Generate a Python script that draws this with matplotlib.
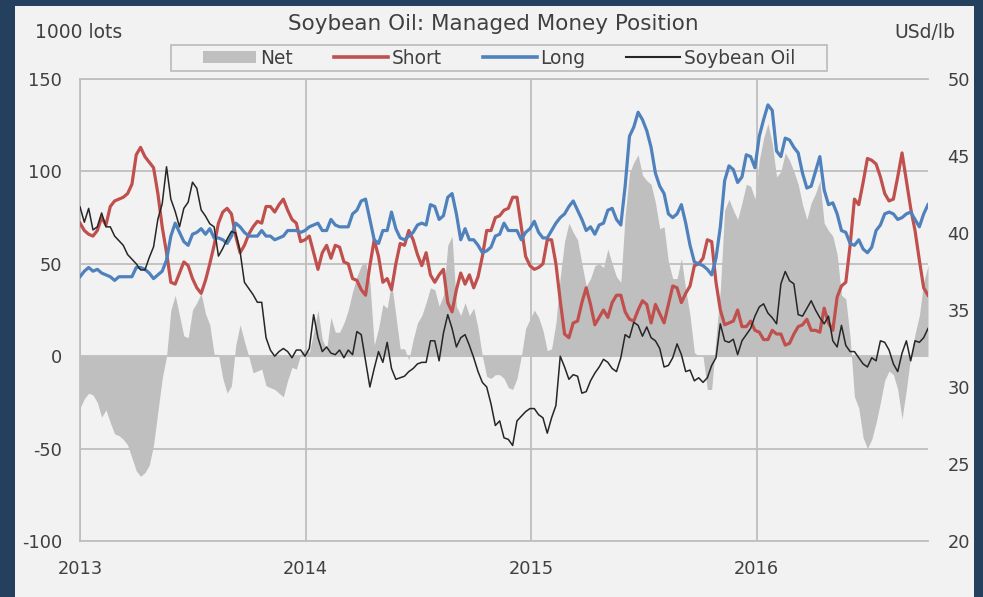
import numpy as np
import pandas as pd
import matplotlib
matplotlib.use("Agg")
import matplotlib.pyplot as plt
from matplotlib.patches import Rectangle, Patch
from matplotlib.lines import Line2D

# ---------------- data (weekly, 1000 lots / USd per lb) ----------------
dates = pd.date_range("2013-01-01", periods=197, freq="7D")

short = [72, 68, 66, 65, 68, 75, 71, 81, 84, 85,
         86, 88, 93, 109, 113, 108, 105, 102, 88, 70,
         56, 40, 39, 45, 51, 49, 42, 37, 34, 41,
         50, 60, 72, 78, 80, 77, 65, 56, 60, 66,
         70, 73, 72, 81, 81, 78, 82, 85, 79, 74,
         72, 62, 63, 65, 56, 47, 56, 60, 53, 60,
         59, 51, 50, 42, 41, 36, 33, 49, 63, 54,
         40, 42, 36, 50, 61, 60, 68, 63, 55, 49,
         56, 44, 40, 44, 47, 29, 24, 36, 45, 39,
         44, 37, 43, 54, 68, 68, 75, 76, 79, 80,
         86, 86, 70, 54, 49, 47, 48, 50, 63, 63,
         50, 30, 12, 10, 18, 19, 29, 37, 28, 17,
         21, 25, 21, 29, 33, 33, 24, 20, 19, 25,
         30, 28, 18, 28, 23, 18, 28, 38, 37, 29,
         34, 38, 49, 50, 53, 63, 62, 40, 25, 17,
         18, 19, 25, 16, 16, 19, 14, 13, 9, 9,
         14, 12, 12, 6, 7, 12, 16, 17, 20, 14,
         14, 13, 26, 18, 14, 32, 38, 40, 60, 85,
         82, 94, 107, 106, 104, 97, 88, 84, 85, 97,
         110, 95, 80, 68, 52, 37, 33]

long = [43, 46, 48, 46, 47, 45, 44, 43, 41, 43,
        43, 43, 43, 48, 48, 47, 45, 42, 44, 46,
        52, 65, 72, 67, 62, 60, 66, 67, 69, 66,
        69, 64, 64, 63, 61, 65, 72, 70, 67, 65,
        65, 65, 68, 65, 65, 63, 64, 65, 68, 68,
        68, 67, 68, 70, 71, 72, 68, 68, 74, 71,
        70, 70, 70, 77, 79, 84, 85, 74, 63, 61,
        68, 68, 78, 69, 64, 63, 65, 67, 71, 72,
        71, 82, 81, 74, 76, 86, 88, 77, 63, 69,
        63, 63, 60, 56, 57, 59, 65, 66, 72, 68,
        68, 68, 63, 67, 69, 73, 67, 64, 64, 68,
        72, 75, 77, 81, 84, 79, 74, 68, 70, 66,
        71, 72, 79, 80, 74, 71, 92, 119, 124, 132,
        128, 122, 113, 99, 92, 88, 77, 75, 77, 82,
        72, 60, 51, 50, 49, 47, 44, 53, 70, 95,
        103, 101, 94, 97, 109, 108, 102, 119, 128, 136,
        133, 111, 108, 118, 117, 113, 110, 99, 91, 92,
        100, 108, 90, 82, 83, 77, 68, 67, 61, 60,
        63, 58, 56, 59, 68, 71, 77, 78, 77, 74,
        75, 77, 78, 74, 70, 77, 82]

net = [-28, -23, -20, -21, -25, -33, -29, -36, -42, -43,
       -45, -48, -55, -62, -65, -63, -59, -48, -30, -12,
       0, 25, 33, 22, 11, 10, 25, 29, 34, 23,
       17, 1, 1, -12, -20, -16, 6, 17, 8, 0,
       -9, -8, -7, -16, -17, -18, -20, -22, -13, -6,
       -7, 1, 4, 2, 13, 25, 9, 4, 21, 13,
       13, 18, 25, 35, 43, 49, 51, 40, 6, 15,
       28, 26, 40, 22, 4, 4, -2, 9, 18, 22,
       29, 37, 36, 27, 33, 60, 65, 27, 22, 29,
       22, 26, 15, 0, -11, -12, -10, -10, -12, -17,
       -18, -12, 0, 15, 20, 25, 21, 14, 3, 4,
       18, 43, 62, 72, 67, 63, 50, 38, 42, 49,
       50, 48, 58, 50, 43, 40, 76, 99, 105, 109,
       98, 95, 93, 83, 69, 70, 51, 42, 42, 53,
       36, 22, 2, 0, 0, -18, -18, 10, 36, 79,
       85, 79, 74, 83, 93, 92, 85, 106, 118, 126,
       115, 97, 100, 110, 106, 100, 93, 82, 74, 83,
       88, 95, 72, 68, 65, 55, 33, 31, 10, -22,
       -28, -44, -50, -45, -36, -25, -13, -8, -10, -18,
       -34, -18, 0, 12, 22, 40, 49]

soybean_oil = [41.7, 40.7, 41.6, 40.2, 40.4, 41.3, 40.4, 40.4, 39.8, 39.5,
               39.2, 38.6, 38.3, 38.0, 37.6, 37.6, 38.4, 39.1, 40.9, 41.9,
               44.3, 42.2, 41.4, 40.4, 41.6, 42.0, 43.3, 42.9, 41.5, 41.1,
               40.6, 40.4, 38.5, 39.0, 39.6, 40.1, 40.0, 38.8, 36.8, 36.4,
               36.0, 35.5, 35.5, 33.2, 32.4, 32.0, 32.3, 32.5, 32.3, 31.9,
               32.4, 32.4, 32.0, 32.5, 34.7, 33.2, 32.3, 32.6, 32.2, 32.1,
               32.4, 31.9, 32.4, 32.1, 33.6, 33.4, 31.7, 30.0, 31.2, 32.3,
               31.6, 32.9, 31.2, 30.5, 30.6, 30.7, 31.0, 31.2, 31.5, 31.6,
               31.6, 33.0, 33.0, 31.7, 33.5, 34.7, 33.8, 32.6, 33.2, 33.4,
               32.7, 31.9, 31.0, 30.3, 30.0, 28.9, 27.5, 27.8, 26.7, 26.6,
               26.2, 27.8, 28.1, 28.4, 28.6, 28.6, 28.2, 28.0, 27.0, 28.0,
               28.8, 32.0, 31.3, 30.5, 30.8, 30.7, 29.6, 29.7, 30.4, 30.9,
               31.3, 31.8, 31.6, 31.2, 31.0, 31.9, 33.4, 33.2, 34.2, 34.0,
               33.3, 33.9, 33.2, 33.0, 32.5, 31.3, 31.4, 31.9, 32.8, 32.1,
               31.0, 31.1, 30.4, 30.6, 30.3, 30.6, 31.4, 31.9, 34.1, 33.0,
               32.9, 33.1, 32.1, 33.0, 33.4, 33.8, 34.6, 35.2, 35.4, 34.8,
               34.5, 34.1, 36.7, 37.5, 36.9, 36.7, 34.7, 34.6, 35.1, 35.6,
               35.0, 34.5, 34.1, 34.6, 33.0, 32.6, 34.0, 32.7, 32.3, 32.3,
               31.9, 31.5, 31.3, 31.9, 31.7, 33.0, 32.9, 32.4, 31.5, 31.0,
               32.2, 33.0, 31.7, 33.0, 32.9, 33.2, 33.8]

year_ticks = ["2013", "2014", "2015", "2016"]
left_ticks = [-100, -50, 0, 50, 100, 150]
right_ticks = [20, 25, 30, 35, 40, 45, 50]

# ---------------- style ----------------
NAVY = "#253f5f"
PANEL = "#f2f2f2"
GRID = "#bfbfbf"
TXT = "#404040"
RED = "#c0504d"
BLUE = "#4f81bd"
BLACK = "#262626"
NETC = "#bfbfbf"

plt.rcParams["font.family"] = ["DejaVu Sans"]
plt.rcParams["axes.unicode_minus"] = False

W, H = 983, 597
fig = plt.figure(figsize=(W / 100, H / 100), dpi=100, facecolor=NAVY)
fig.patches.append(Rectangle((15 / W, 0), (974 - 15) / W, 1 - 6 / H,
                             transform=fig.transFigure, facecolor=PANEL,
                             edgecolor="none", zorder=-10))

ax = fig.add_axes([80 / W, 1 - 541 / H, (928 - 80) / W, (541 - 79) / H])
ax.set_facecolor(PANEL)

ax.fill_between(dates, net, 0, color=NETC, linewidth=0, zorder=2)
ax.plot(dates, short, color=RED, lw=2.3, zorder=3, solid_joinstyle="round")
ax.plot(dates, long, color=BLUE, lw=2.3, zorder=4, solid_joinstyle="round")

ax.set_ylim(-100, 150)
ax.set_yticks(left_ticks)
ax.set_xlim(dates[0], dates[-1])
ax.set_xticks([pd.Timestamp(f"{y}-01-01") for y in year_ticks])
ax.set_xticklabels(year_ticks)
ax.grid(True, color=GRID, lw=1.3, zorder=1)
ax.set_axisbelow(True)
ax.tick_params(length=0, labelsize=12.8, labelcolor=TXT)
ax.tick_params(axis="y", pad=13)
ax.tick_params(axis="x", pad=13.5)
for s in ["top", "left", "bottom"]:
    ax.spines[s].set_color(GRID)
    ax.spines[s].set_linewidth(1.3)
ax.spines["right"].set_visible(False)

ax2 = ax.twinx()
ax2.plot(dates, soybean_oil, color=BLACK, lw=1.1, zorder=5)
ax2.set_ylim(20, 50)
ax2.set_yticks(right_ticks)
ax2.tick_params(length=0, labelsize=12.8, labelcolor=TXT, pad=14)
for s in ax2.spines.values():
    s.set_visible(False)

# titles / units
fig.text(493.5 / W, 1 - 24 / H, "Soybean Oil: Managed Money Position",
         ha="center", va="center", fontsize=15.5, color=TXT)
fig.text(35 / W, 1 - 32 / H, "1000 lots", ha="left", va="center",
         fontsize=13.5, color=TXT)
fig.text(955 / W, 1 - 32 / H, "USd/lb", ha="right", va="center",
         fontsize=13.5, color=TXT)

# legend
fig.patches.append(Rectangle((171 / W, 1 - 71 / H), (827 - 171) / W, 26 / H,
                             transform=fig.transFigure, facecolor=PANEL,
                             edgecolor=GRID, linewidth=1.3, zorder=1))
handles = [Patch(facecolor=NETC, edgecolor="none"),
           Line2D([], [], color=RED, lw=2.6),
           Line2D([], [], color=BLUE, lw=2.6),
           Line2D([], [], color=BLACK, lw=1.5)]
labels = ["Net", "Short", "Long", "Soybean Oil"]
leg = fig.legend(handles, labels, loc="center", ncol=4,
                 bbox_to_anchor=(499 / W, 1 - 58 / H), frameon=False,
                 fontsize=13.4, handlelength=2.9, handleheight=0.6,
                 handletextpad=0.2, columnspacing=2.2, borderpad=0.1)
for t in leg.get_texts():
    t.set_color(TXT)

fig.savefig("out.png", dpi=100, facecolor=NAVY)
